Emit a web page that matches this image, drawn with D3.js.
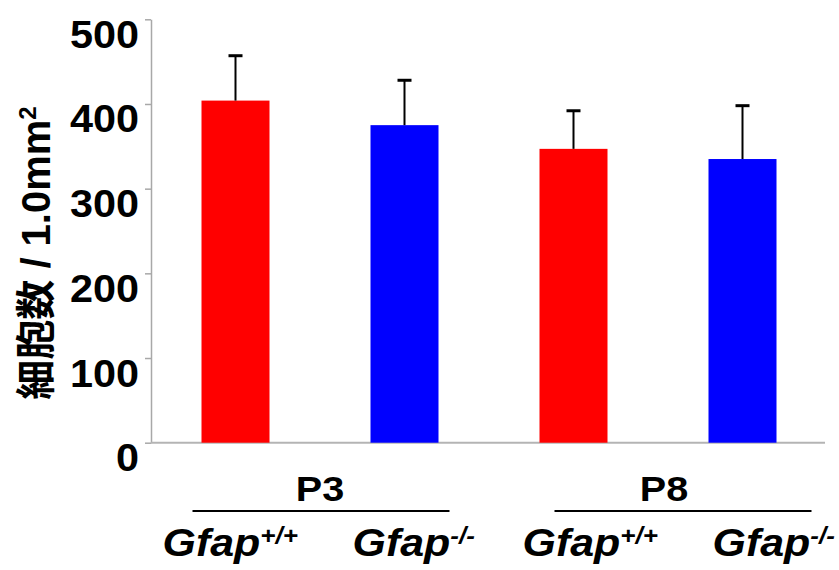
<!DOCTYPE html>
<html>
<head>
<meta charset="utf-8">
<script src="https://cdn.jsdelivr.net/npm/d3@7"></script>
<style>
  html, body { margin: 0; padding: 0; background: #fff; }
  svg { display: block; }
  text { font-family: "Liberation Sans", Arial, "Noto Sans CJK JP", sans-serif; font-weight: bold; fill: #000; }
</style>
</head>
<body>
<svg id="chart" width="839" height="570"></svg>
<script>
// Cell counts per 1.0 mm², mean with upper SEM bar
const ages = ["P3", "P8"];
const genotypes = ["+/+", "-/-"];
const barKeys = ["P3 +/+", "P3 -/-", "P8 +/+", "P8 -/-"];
const means = [404, 375, 347, 335];
const errors = [53, 53, 45, 63];
const barColors = ["#ff0000", "#0000ff", "#ff0000", "#0000ff"];
const yTicks = [0, 100, 200, 300, 400, 500];
const yTitle = "細胞数 / 1.0mm";

const svg = d3.select("#chart");

const x = d3.scaleBand().domain(barKeys).range([151, 827]).padding(0);
const y = d3.scaleLinear().domain([0, 500]).range([442.7, 19.3]);
const barW = 68;

// y axis: gray line with short outer ticks, large bold labels
const yAxis = svg.append("g")
  .attr("transform", "translate(151,0)")
  .call(d3.axisLeft(y).tickValues(yTicks).tickSize(6).tickSizeOuter(0));
yAxis.select(".domain").attr("stroke", "#a8a8a8").attr("stroke-width", 1.5);
yAxis.selectAll(".tick line").attr("stroke", "#a8a8a8").attr("stroke-width", 1.5);
yAxis.selectAll(".tick text")
  .attr("x", 0).attr("dy", 0)
  .attr("transform", "translate(-12,28) scale(1.09,1)")
  .attr("text-anchor", "end")
  .style("font-size", "38px");

// baseline
svg.append("line")
  .attr("x1", 151).attr("x2", 825)
  .attr("y1", y(0)).attr("y2", y(0))
  .attr("stroke", "#b4b4b4").attr("stroke-width", 2);

// bars
const cx = k => x(k) + x.bandwidth() / 2;
svg.selectAll("rect.bar").data(barKeys).enter().append("rect")
  .attr("class", "bar")
  .attr("x", k => cx(k) - barW / 2)
  .attr("width", barW)
  .attr("y", (k, i) => y(means[i]))
  .attr("height", (k, i) => y(0) - y(means[i]))
  .attr("fill", (k, i) => barColors[i]);

// upper error bars
const eb = svg.selectAll("g.err").data(barKeys).enter().append("g").attr("class", "err");
eb.append("line")
  .attr("x1", k => cx(k)).attr("x2", k => cx(k))
  .attr("y1", (k, i) => y(means[i]))
  .attr("y2", (k, i) => y(means[i] + errors[i]))
  .attr("stroke", "#000").attr("stroke-width", 2);
eb.append("line")
  .attr("x1", k => cx(k) - 7).attr("x2", k => cx(k) + 7)
  .attr("y1", (k, i) => y(means[i] + errors[i]))
  .attr("y2", (k, i) => y(means[i] + errors[i]))
  .attr("stroke", "#000").attr("stroke-width", 3);

// y axis title
const title = svg.append("text")
  .attr("transform", "translate(50,253) rotate(-90)")
  .attr("text-anchor", "middle")
  .style("font-size", "40px")
  .style("font-family", "\"Liberation Sans\", \"Noto Sans CJK JP\", sans-serif");
title.append("tspan").text(yTitle);
title.append("tspan").attr("dy", -14).style("font-size", "24px").text("2");

// group annotations below the axis
const groupShift = [0, 24];
const groupTextShift = [0, 6];
ages.forEach((age, g) => {
  const k0 = barKeys[g * 2], k1 = barKeys[g * 2 + 1];
  const mid = (cx(k0) + cx(k1)) / 2;
  svg.append("text")
    .attr("transform", `translate(${mid + groupTextShift[g]},501) scale(1.1,1)`)
    .attr("text-anchor", "middle")
    .style("font-size", "36px")
    .text(age);
  svg.append("line")
    .attr("x1", cx(k0) - 43 + groupShift[g]).attr("x2", cx(k1) + 45 + groupShift[g])
    .attr("y1", 511).attr("y2", 511)
    .attr("stroke", "#000").attr("stroke-width", 2);
  genotypes.forEach((gt, j) => {
    const k = barKeys[g * 2 + j];
    const startX = cx(k) + (j === 0 ? -73 : -52) + (g === 1 ? 22 : 0);
    const t = svg.append("text")
      .attr("transform", `translate(${startX},556) scale(1.13,1)`)
      .style("font-size", "38px")
      .style("font-style", "italic");
    t.append("tspan").text("Gfap");
    t.append("tspan").attr("dy", -12).style("font-size", "23px").text(gt);
  });
});
</script>
</body>
</html>
